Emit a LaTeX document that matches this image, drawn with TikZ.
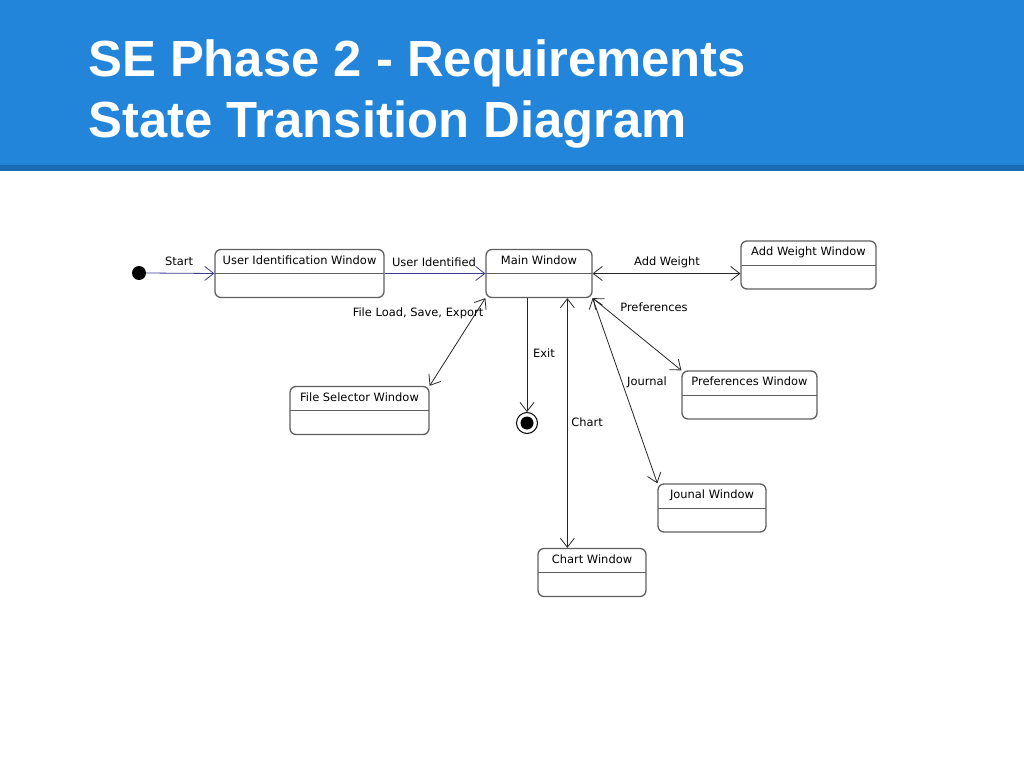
\documentclass[tikz,border=0pt]{standalone}
\usepackage{fontspec}
\setmainfont{DejaVu Sans}
\newfontfamily\titlefont{Liberation Sans}
\usetikzlibrary{arrows.meta}
\usetikzlibrary{positioning}
\definecolor{hblue}{RGB}{35,133,217}
\definecolor{hdark}{RGB}{28,108,181}
\definecolor{sborder}{RGB}{95,95,95}
\definecolor{tblue}{RGB}{60,60,140}

\begin{document}
\begin{tikzpicture}[x=1bp, y=-1bp,
    state/.style={draw=sborder, line width=1.3bp, rounded corners=6bp,
      minimum height=48bp, inner sep=0pt, text height=8bp, text depth=27bp,
      font=\fontsize{11.5}{13}\selectfont,
      path picture={\draw[sborder, line width=1bp] (path picture bounding box.west) -- (path picture bounding box.east);}},
    lbl/.style={inner sep=0pt, font=\fontsize{11.5}{13}\selectfont},
    trans/.style={line width=0.8bp, black!85},
    vhead/.style={arrows={-Straight Barb[length=9bp, width=14bp]}},
    vboth/.style={arrows={Straight Barb[length=9bp, width=14bp]-Straight Barb[length=9bp, width=14bp]}},
    final/.style={circle, draw=black, line width=1bp, minimum size=21bp, inner sep=0pt,
      path picture={\fill (path picture bounding box.center) circle (6.5bp);}}]
    \useasboundingbox (0,0) rectangle (1024,768);

    % header
    \fill [hblue] (0,0) rectangle (1024,165);
    \fill [hdark] (0,165) rectangle (1024,171);
    \node [anchor=base west, text=white, inner sep=0pt, font=\titlefont\bfseries\fontsize{51}{60}\selectfont] (title1) at (88,77) {SE Phase 2 - Requirements};
    \node [anchor=base west, text=white, inner sep=0pt, font=\titlefont\bfseries\fontsize{51}{60}\selectfont] (title2) at (88,137) {State Transition Diagram};

    % states
    \node [circle, fill=black, minimum size=14bp, inner sep=0pt] (init) at (139,273) {};
    \node [state, minimum width=169bp] (uid) at (299.5,273.5) {User Identification Window};
    \node [state, minimum width=106bp] (main) at (539,273.5) {Main Window};
    \node [state, minimum width=135bp] (addw) at (808.5,265) {Add Weight Window};
    \node [state, minimum width=135bp] (pref) at (749.5,395) {Preferences Window};
    \node [state, minimum width=108bp] (jour) at (712,508) {Jounal Window};
    \node [state, minimum width=108bp] (chart) at (592,572.5) {Chart Window};
    \node [state, minimum width=139bp] (fsel) at (359.5,410.5) {File Selector Window};
    \node [final] (fin) at (527,423) {};
    \coordinate [right=30bp of chart.north west] (chtop);

    % transitions
    \draw [trans, tblue, vhead] (init.east) -- (uid.west);
    \draw [trans, tblue, vhead] (uid.east) -- (main.west);
    \draw [trans, vboth] (main.east) -- (main.east -| addw.west);
    \draw [trans, vboth] (main.south east) -- (pref.north west);
    \draw [trans, vboth] (main.south east) -- (jour.north west);
    \draw [trans, vboth] (main.south west) -- (fsel.north east);
    \draw [trans, vboth] (chtop |- main.south) -- (chtop);
    \draw [trans, vhead] (main.south -| fin) -- (fin.north);

    \node [lbl] (lstart) at (179,261) {Start};
    \node [lbl] (luid) at (434,262) {User Identified};
    \node [lbl] (laddw) at (667,262) {Add Weight};
    \node [lbl] (lpref) at (654,307) {Preferences};
    \node [lbl] (lfile) at (418,313) {File Load, Save, Export};
    \node [lbl] (lexit) at (544,353) {Exit};
    \node [lbl] (ljour) at (647,382) {Journal};
    \node [lbl] (lchart) at (587,422) {Chart};
  \end{tikzpicture}
\end{document}
